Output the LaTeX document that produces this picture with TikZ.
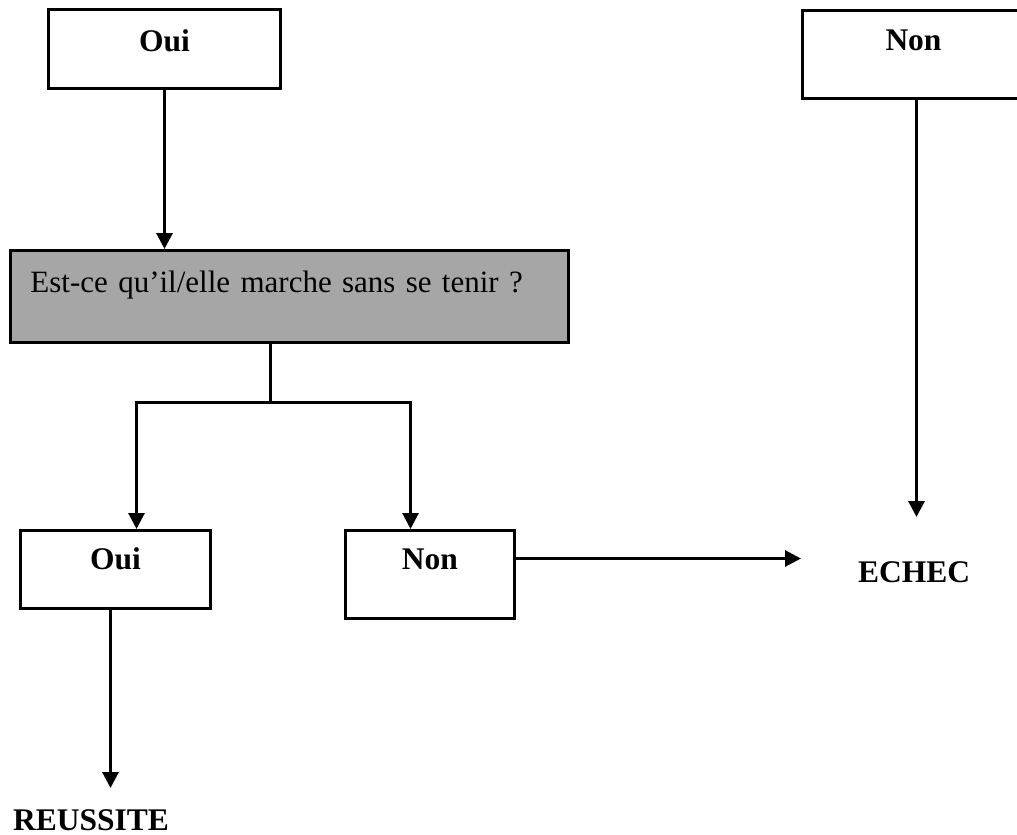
\documentclass[tikz,border=0pt]{standalone}
\usepackage{fontspec}
\setmainfont{Liberation Serif}
\usetikzlibrary{arrows.meta}
\begin{document}
\begin{tikzpicture}[x=1pt,y=-1pt,
  every node/.style={font=\fontsize{31}{37}\selectfont},
  box/.style={draw, line width=3pt, inner xsep=0pt, inner ysep=0pt, anchor=north west, font=\fontsize{31.5}{37}\selectfont\bfseries},
  ln/.style={line width=3pt},
  arr/.style={line width=3pt, -{Triangle[width=16pt,length=16pt]}},
  lbl/.style={anchor=base, inner sep=0pt, font=\fontsize{31.5}{37}\selectfont\bfseries}]
\useasboundingbox (0,0) rectangle (1017,835);
\fill[white] (0,0) rectangle (1017,835);
% boxes
\node[box, minimum width=232pt, text height=42pt, text depth=37pt] (oui1) at (47,8) {Oui};
\node[box, minimum width=222pt, text height=40pt, text depth=48pt] (non1) at (801,9) {Non};
\node[box, fill={rgb,255:red,166;green,166;blue,166}, font=\fontsize{31}{37}\selectfont,
      text width=518pt, align=left, inner xsep=20pt, text height=42pt, text depth=50pt] (gray) at (9,249)
      {Est-ce qu’il/elle marche sans se tenir ?};
\node[box, minimum width=190pt, text height=39pt, text depth=39pt] (oui2) at (19,529) {Oui};
\node[box, minimum width=169pt, text height=39pt, text depth=49pt] (non2) at (344,529) {Non};
\node[lbl] (echec) at (914,582) {ECHEC};
\node[lbl] (reussite) at (91,830) {REUSSITE};
% helper coordinates
\coordinate (split) at (270,402);
\coordinate (echecin) at (916,517);
\coordinate (reussin) at (110,788);
% connectors
\draw[arr] (oui1.south) -- (oui1.south |- gray.north);
\draw[ln] (gray.south -| split) -- (split);
\draw[arr] (split) -| ([xshift=21pt]oui2.north);
\draw[arr] (split) -| ([xshift=-19.5pt]non2.north);
\draw[arr] ([yshift=16pt]non2.east) -- ([yshift=16pt]non2.east -| non1.west);
\draw[arr] ([xshift=3pt]non1.south) -- ([xshift=3pt]non1.south |- echecin);
\draw[arr] ([xshift=-5pt]oui2.south) -- ([xshift=-5pt]oui2.south |- reussin);
\end{tikzpicture}
\end{document}
